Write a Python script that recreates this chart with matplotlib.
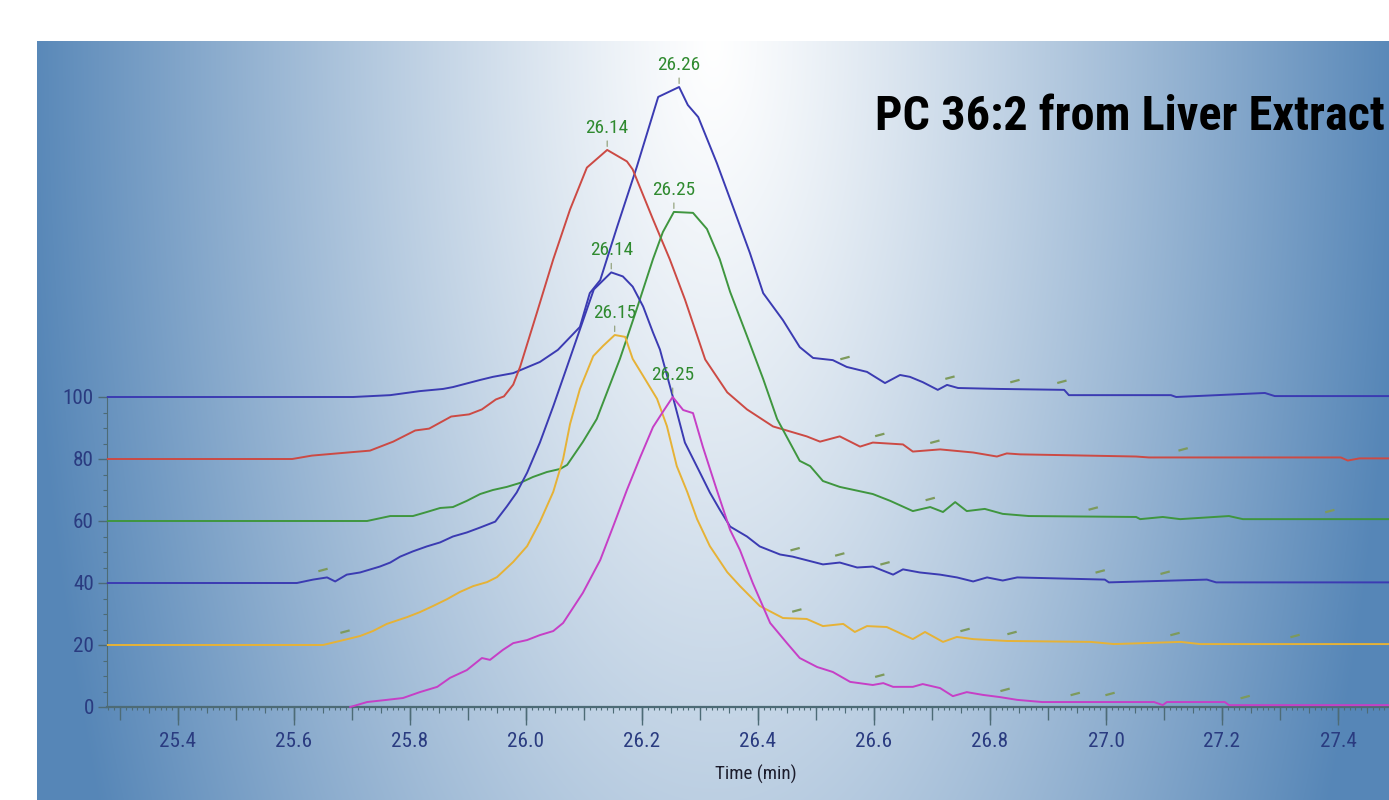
import numpy as np
import matplotlib
matplotlib.use('Agg')
import matplotlib.pyplot as plt
from matplotlib import font_manager as fm
from matplotlib.ticker import MultipleLocator, FixedLocator, NullFormatter, FormatStrFormatter

# --- data: six extracted-ion chromatograms, each normalised to 100 and stacked by 20 ---
time_1 = [25.279, 25.702, 25.766, 25.817, 25.857, 25.874, 25.921, 25.943, 25.978, 26.024, 26.055,
          26.093, 26.110, 26.128, 26.157, 26.191, 26.228, 26.264, 26.279, 26.297, 26.329, 26.357,
          26.386, 26.409, 26.443, 26.472, 26.495, 26.529, 26.553, 26.588, 26.619, 26.645, 26.662,
          26.684, 26.710, 26.726, 26.745, 26.817, 26.928, 26.936, 27.112, 27.121, 27.274, 27.291, 27.488]
inten_1 = [0, 0, 0.6, 1.9, 2.6, 3.2, 5.5, 6.5, 7.7, 11.3, 15.2,
           22.6, 33.5, 37.7, 54.8, 74.2, 96.8, 100, 94.2, 90.3, 75.5, 61.3,
           46.5, 33.5, 24.8, 16.1, 12.6, 11.9, 9.7, 8.1, 4.5, 7.1, 6.5,
           4.8, 2.3, 3.9, 2.9, 2.6, 2.3, 0.6, 0.6, 0, 1.3, 0.3, 0.3]

time_2 = [25.279, 25.597, 25.631, 25.693, 25.731, 25.771, 25.809, 25.833, 25.871, 25.902, 25.924,
          25.948, 25.962, 25.978, 25.990, 26.019, 26.047, 26.076, 26.105, 26.140, 26.174, 26.184,
          26.219, 26.248, 26.274, 26.309, 26.347, 26.381, 26.426, 26.484, 26.507, 26.541, 26.576,
          26.598, 26.650, 26.667, 26.714, 26.771, 26.812, 26.829, 26.852, 27.052, 27.074, 27.405,
          27.417, 27.437, 27.488]
inten_2 = [0, 0, 1.1, 2.1, 2.7, 5.6, 9.2, 9.8, 13.7, 14.4, 16.0,
           19.2, 20.2, 24.0, 29.8, 47.3, 64.4, 80.5, 94.0, 99.7, 96.0, 93.4,
           77.3, 64.4, 51.5, 32.1, 21.5, 16.0, 10.5, 7.3, 5.6, 7.3, 4.0,
           5.3, 4.7, 2.4, 3.1, 2.1, 0.8, 1.8, 1.5, 0.8, 0.5, 0.5,
           -0.5, 0.2, 0.2]

time_3 = [25.279, 25.726, 25.766, 25.805, 25.829, 25.852, 25.874, 25.898, 25.921, 25.943, 25.967,
          25.990, 26.012, 26.036, 26.059, 26.071, 26.098, 26.122, 26.150, 26.162, 26.191, 26.219,
          26.236, 26.255, 26.288, 26.312, 26.334, 26.352, 26.381, 26.409, 26.433, 26.472, 26.490,
          26.512, 26.541, 26.598, 26.628, 26.667, 26.697, 26.719, 26.740, 26.760, 26.791, 26.822,
          26.867, 27.052, 27.059, 27.098, 27.128, 27.212, 27.236, 27.488]
inten_3 = [0, 0, 1.6, 1.6, 2.9, 4.2, 4.5, 6.5, 8.7, 10.0, 11.0,
           12.3, 14.2, 15.8, 16.8, 18.1, 25.5, 32.9, 46.5, 52.3, 68.4, 84.5,
           93.2, 99.7, 99.4, 94.2, 84.5, 73.9, 59.7, 45.8, 32.9, 19.4, 17.7,
           12.9, 11.0, 8.7, 6.5, 3.2, 4.5, 2.9, 6.1, 3.2, 3.9, 2.3,
           1.6, 1.3, 0.6, 1.3, 0.6, 1.6, 0.6, 0.6]

time_4 = [25.279, 25.605, 25.633, 25.657, 25.671, 25.691, 25.714, 25.748, 25.766, 25.783, 25.805,
          25.829, 25.852, 25.874, 25.898, 25.921, 25.947, 25.967, 25.984, 26.002, 26.024, 26.047,
          26.071, 26.093, 26.117, 26.147, 26.167, 26.184, 26.202, 26.219, 26.231, 26.253, 26.274,
          26.300, 26.317, 26.334, 26.352, 26.381, 26.403, 26.438, 26.460, 26.512, 26.541, 26.571,
          26.598, 26.633, 26.650, 26.679, 26.714, 26.743, 26.771, 26.795, 26.822, 26.847, 26.998,
          27.005, 27.174, 27.190, 27.488]
inten_4 = [0, 0, 1.1, 1.8, 0.5, 2.7, 3.4, 5.3, 6.6, 8.5, 10.2,
           11.8, 13.1, 15.0, 16.3, 17.9, 19.8, 24.7, 29.2, 35.6, 45.3, 57.0,
           69.9, 81.8, 94.7, 100.2, 98.9, 95.6, 89.2, 80.8, 75.3, 60.2, 45.3,
           35.6, 29.2, 23.7, 18.2, 15.0, 11.8, 9.2, 8.5, 6.0, 6.6, 5.0,
           5.3, 2.7, 4.4, 3.4, 2.7, 1.8, 0.5, 1.8, 0.8, 1.8, 1.1,
           0.2, 1.1, 0.2, 0.2]

time_5 = [25.279, 25.650, 25.679, 25.714, 25.736, 25.760, 25.795, 25.817, 25.840, 25.864, 25.886,
          25.909, 25.933, 25.950, 25.978, 26.002, 26.024, 26.047, 26.064, 26.076, 26.093, 26.116,
          26.133, 26.153, 26.171, 26.184, 26.202, 26.226, 26.243, 26.260, 26.278, 26.295, 26.317,
          26.347, 26.369, 26.403, 26.443, 26.484, 26.512, 26.547, 26.567, 26.588, 26.622, 26.667,
          26.688, 26.719, 26.743, 26.771, 26.829, 26.974, 27.014, 27.129, 27.162, 27.488]
inten_5 = [0, 0, 1.3, 2.9, 4.5, 6.8, 9.0, 10.6, 12.6, 14.8, 17.1,
           19.0, 20.3, 21.9, 26.8, 31.9, 39.7, 49.4, 60.0, 71.3, 82.6, 93.2,
           96.5, 100, 99.4, 92.3, 86.8, 79.4, 70.6, 57.7, 49.4, 40.6, 31.9,
           23.5, 19.0, 12.6, 8.7, 8.4, 6.1, 6.8, 4.2, 6.1, 5.8, 1.9,
           4.2, 1.0, 2.6, 1.9, 1.3, 1.0, 0.3, 1.0, 0.3, 0.3]

time_6 = [25.697, 25.726, 25.760, 25.788, 25.817, 25.847, 25.869, 25.898, 25.924, 25.938, 25.960,
          25.978, 26.002, 26.024, 26.047, 26.064, 26.098, 26.128, 26.150, 26.174, 26.197, 26.219,
          26.236, 26.253, 26.271, 26.288, 26.305, 26.329, 26.352, 26.369, 26.391, 26.421, 26.450,
          26.472, 26.502, 26.529, 26.559, 26.598, 26.616, 26.633, 26.667, 26.684, 26.714, 26.736,
          26.760, 26.788, 26.817, 26.847, 26.890, 27.083, 27.098, 27.105, 27.205, 27.212, 27.488]
inten_6 = [0, 1.6, 2.3, 2.9, 4.8, 6.5, 9.4, 11.9, 15.8, 15.2, 18.4,
           20.6, 21.6, 23.2, 24.5, 27.1, 36.8, 47.4, 58.1, 70.0, 80.6, 90.3,
           95.2, 100, 95.8, 94.8, 83.9, 70.0, 57.1, 50.6, 40.0, 27.1, 20.6,
           15.8, 12.9, 11.3, 8.1, 7.1, 7.7, 6.5, 6.5, 7.4, 6.1, 3.5,
           4.8, 3.9, 3.2, 2.3, 1.6, 1.6, 0.6, 1.6, 1.6, 0.6, 0.6]

offsets = [100, 80, 60, 40, 20, 0]
peak_labels = ['26.26', '26.14', '26.25', '26.14', '26.15', '26.25']

# little integration marks the software drew along the baselines (times, per trace)
marks_1 = [26.550, 26.731, 26.843, 26.924]
marks_2 = [26.610, 26.705, 27.133]
marks_3 = [26.697, 26.978, 27.386]
marks_4 = [25.650, 26.464, 26.541, 26.619, 26.990, 27.102]
marks_5 = [25.688, 26.467, 26.757, 26.838, 27.119, 27.326]
marks_6 = [26.610, 26.826, 26.947, 27.007, 27.240]

times = [time_1, time_2, time_3, time_4, time_5, time_6]
intens = [inten_1, inten_2, inten_3, inten_4, inten_5, inten_6]
marks = [marks_1, marks_2, marks_3, marks_4, marks_5, marks_6]
colors = ['#3b3bb2', '#cc4a44', '#3f963f', '#3b3bb2', '#e6b236', '#c63fc6']

# --- fonts: prefer a narrow face, the original uses Arial Narrow-like lettering ---
names = {f.name for f in fm.fontManager.ttflist}
FONT = 'Liberation Sans'
for cand in ['Liberation Sans Narrow', 'Roboto Condensed', 'Noto Sans Condensed',
             'Open Sans Condensed', 'DejaVu Sans Condensed']:
    if cand in names:
        FONT = cand
        break
plt.rcParams['font.family'] = [FONT, 'DejaVu Sans']

W, H = 1389, 800
fig = plt.figure(figsize=(W / 100, H / 100), dpi=100)
renderer = fig.canvas.get_renderer()


def fit_size(s, px, weight='normal', cap=None):
    # font size (pt) that makes string s about px pixels wide
    t = fig.text(0, 0, s, fontsize=20, fontweight=weight)
    w = t.get_window_extent(renderer).width
    t.remove()
    size = 20 * px / w
    return min(size, cap) if cap else size


tick_fs = fit_size('25.4', 37, cap=16)
peak_fs = fit_size('26.26', 43, cap=16)
xlab_fs = fit_size('Time (min)', 82, cap=17)
title_fs = fit_size('PC 36:2 from Liver Extract', 508, weight='bold')

# blue panel with a light glow at top centre
bg = fig.add_axes([37 / W, 0, (W - 37) / W, (H - 41) / H])
bh, bw = H - 41, W - 37
yy, xx = np.mgrid[0:bh, 0:bw]
f = np.sqrt(((xx - bw / 2) / 690.0) ** 2 + (yy / 1700.0) ** 2)
f = np.clip(f, 0, 1) ** 1.15
edge = np.array([86, 134, 183]) / 255.0
img = (1 - f)[..., None] * np.array([1.0, 1.0, 1.0]) + f[..., None] * edge
bg.imshow(img, aspect='auto', interpolation='bilinear')
bg.axis('off')

# main axes: x from 25.2776 (px 107) to 27.488 (px 1389), y 0 at px 707, 3.1 px per unit
ax = fig.add_axes([107 / W, (H - 707) / H, (W - 107) / W, (707 - 41) / H])
ax.set_facecolor('none')
ax.set_xlim(25.2776, 27.488)
ax.set_ylim(0, (707 - 41) / 3.1)

for t, v, off, c, lab, mk in zip(times, intens, offsets, colors, peak_labels, marks):
    t = np.array(t)
    v = np.array(v) + off
    ax.plot(t, v, color=c, lw=1.4, solid_joinstyle='round', clip_on=False, zorder=3)
    i = int(np.argmax(v))
    ax.annotate(lab, (t[i], v[i]), xytext=(0, 13), textcoords='offset pixels',
                ha='center', va='bottom', color='#2f8a2f', fontsize=peak_fs, zorder=5)
    ax.annotate('', xy=(t[i], v[i]), xytext=(0, 9), textcoords='offset pixels',
                arrowprops=dict(arrowstyle='-', color='#8a9a70', lw=0.8,
                                shrinkA=0, shrinkB=2.5), zorder=5)
    for m in mk:
        ym = np.interp(m, t, v) + 2.2
        ax.plot([m - 0.008, m + 0.008], [ym, ym + 0.8], color='#7d9a5c', lw=1.6,
                solid_capstyle='butt', zorder=4)

axis_col = '#4d6b76'
label_col = '#2a3b80'
for s in ['top', 'right']:
    ax.spines[s].set_visible(False)
ax.spines['left'].set_bounds(0, 100)
ax.spines['left'].set_color(axis_col)
ax.spines['bottom'].set_color(axis_col)
ax.spines['bottom'].set_linewidth(1.6)
ax.spines['bottom'].set_zorder(2)

ax.yaxis.set_major_locator(FixedLocator([0, 20, 40, 60, 80, 100]))
ax.yaxis.set_minor_locator(FixedLocator(list(range(5, 100, 5))))
ax.xaxis.set_major_locator(MultipleLocator(0.2))
ax.xaxis.set_minor_locator(MultipleLocator(0.01))
ax.xaxis.set_major_formatter(FormatStrFormatter('%.1f'))
ax.tick_params(axis='x', which='major', length=13, width=1.0, color=axis_col,
               labelsize=tick_fs, labelcolor=label_col, pad=5)
ax.tick_params(axis='x', which='minor', length=2.5, width=0.8, color=axis_col)
ax.tick_params(axis='y', which='major', length=6.5, width=1.0, color=axis_col,
               labelsize=tick_fs, labelcolor=label_col, pad=3)
ax.tick_params(axis='y', which='minor', length=3, width=0.8, color=axis_col)

# extra tick levels at 0.1 and 0.05 min
sec = ax.secondary_xaxis('bottom')
sec.xaxis.set_major_locator(MultipleLocator(0.1))
sec.xaxis.set_minor_locator(MultipleLocator(0.05))
sec.xaxis.set_major_formatter(NullFormatter())
sec.tick_params(axis='x', which='major', length=9.5, width=1.0, color=axis_col)
sec.tick_params(axis='x', which='minor', length=4.5, width=0.8, color=axis_col)
sec.spines['bottom'].set_visible(False)

ax.set_xlabel('Time (min)', fontsize=xlab_fs, color='#1c1c2c')
ax.xaxis.set_label_coords((756 - 107) / (W - 107), -(765 - 707) / (707 - 41))

fig.text(1385 / W, 1 - 130 / H, 'PC 36:2 from Liver Extract', ha='right', va='baseline',
         fontsize=title_fs, fontweight='bold', color='black')

fig.savefig('out.png', dpi=100)
